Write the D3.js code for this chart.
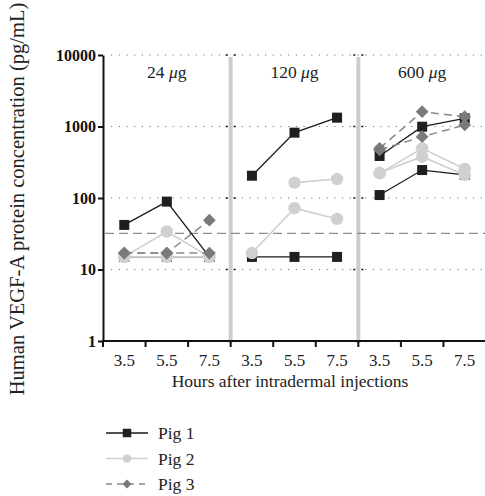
<!DOCTYPE html>
<html>
<head>
<meta charset="utf-8">
<script src="https://cdn.jsdelivr.net/npm/d3@7"></script>
<style>
  body { margin: 0; background: #fff; }
  svg { font-family: "Liberation Serif", "DejaVu Serif", serif; }
</style>
</head>
<body>
<script>
//chart values
var hours = ["3.5", "5.5", "7.5"];
var doses = ["24 \u03bcg", "120 \u03bcg", "600 \u03bcg"];
var pigs = ["Pig 1", "Pig 2", "Pig 3"];
var yTicks = [1, 10, 100, 1000, 10000];
var threshold = 32;

//each pig has two series, 9 values = 3 doses x 3 hours
var pig1a = [42, 89, 15, 205, 820, 1330, 110, 246, 210];
var pig1b = [15, 15, 15, 15, 15, 15, 387, 993, 1300];
var pig2a = [15, 34, 15, 17, 72, 51, 221, 495, 255];
var pig2b = [15, 15, 15, null, 164, 184, 225, 378, 210];
var pig3a = [17, 17, 49, null, null, null, 495, 1610, 1370];
var pig3b = [17, 17, 17, null, null, null, 470, 720, 1050];

var width = 485,
    height = 496;

var plotLeft = 103, plotRight = 486, plotTop = 55, plotBottom = 341;

var svg = d3.select("body")
    .append("svg")
    .attr("width", width)
    .attr("height", height);

//one category per dose/hour pair
var cats = [];
doses.forEach(function(d, i){
    hours.forEach(function(h){ cats.push(i + "_" + h); });
});

var x = d3.scaleBand()
    .domain(cats)
    .range([plotLeft, plotRight]);

var y = d3.scaleLog()
    .domain([1, 10000])
    .range([plotBottom, plotTop]);

//dotted grid lines
svg.selectAll(".grid")
    .data(yTicks.slice(1))
    .enter()
    .append("line")
    .attr("x1", plotLeft + 8)
    .attr("x2", plotRight)
    .attr("y1", function(d){ return y(d); })
    .attr("y2", function(d){ return y(d); })
    .attr("stroke", "#777")
    .attr("stroke-width", 1.2)
    .attr("stroke-dasharray", "1.2,6.5");

//panel separators
var seps = [1, 2].map(function(i){ return x(i + "_3.5"); });
svg.selectAll(".sep")
    .data(seps)
    .enter()
    .append("line")
    .attr("x1", function(d){ return d; })
    .attr("x2", function(d){ return d; })
    .attr("y1", plotTop + 2)
    .attr("y2", plotBottom + 2)
    .attr("stroke", "#cdcdcd")
    .attr("stroke-width", 4);

//small ticks on the separators
seps.forEach(function(s){
    [-4, 4].forEach(function(off){
        svg.selectAll(null)
            .data(yTicks.slice(1))
            .enter()
            .append("line")
            .attr("x1", s + off - 1).attr("x2", s + off + 1)
            .attr("y1", function(d){ return y(d); })
            .attr("y2", function(d){ return y(d); })
            .attr("stroke", "#111").attr("stroke-width", 1.5);
    });
});

//threshold dashed line
svg.append("line")
    .attr("x1", plotLeft + 2)
    .attr("x2", plotRight)
    .attr("y1", y(threshold))
    .attr("y2", y(threshold))
    .attr("stroke", "#8c8c8c")
    .attr("stroke-width", 1.4)
    .attr("stroke-dasharray", "9,5");

//y axis
var yAxis = svg.append("g")
    .attr("transform", "translate(" + plotLeft + ",0)")
    .call(d3.axisLeft(y).tickValues(yTicks).tickFormat(d3.format("d")).tickSize(5).tickSizeOuter(0));
yAxis.select(".domain").attr("stroke", "#111").attr("stroke-width", 2);
yAxis.selectAll(".tick line").attr("stroke", "#111").attr("stroke-width", 2);
yAxis.selectAll(".tick text")
    .attr("x", -7)
    .attr("fill", "#111")
    .style("font-family", "Liberation Serif")
    .style("font-weight", "bold")
    .style("font-size", "16px");

//x axis
var bounds = cats.map(function(c){ return x(c); }).concat([plotRight]);
svg.append("line")
    .attr("x1", plotLeft - 1).attr("x2", plotRight)
    .attr("y1", plotBottom).attr("y2", plotBottom)
    .attr("stroke", "#111").attr("stroke-width", 2);
svg.selectAll(".xtick")
    .data(bounds)
    .enter()
    .append("line")
    .attr("x1", function(d){ return d; })
    .attr("x2", function(d){ return d; })
    .attr("y1", plotBottom)
    .attr("y2", plotBottom + 6)
    .attr("stroke", "#111").attr("stroke-width", 2);
svg.selectAll(".xlabel")
    .data(cats)
    .enter()
    .append("text")
    .attr("x", function(d){ return x(d) + x.bandwidth() / 2; })
    .attr("y", plotBottom + 25)
    .attr("text-anchor", "middle")
    .attr("fill", "#222")
    .style("font-size", "17px")
    .text(function(d){ return d.split("_")[1]; });

svg.append("text")
    .attr("x", 290)
    .attr("y", plotBottom + 46)
    .attr("text-anchor", "middle")
    .attr("fill", "#222")
    .style("font-size", "17.5px")
    .text("Hours after intradermal injections");

//y title
svg.append("text")
    .attr("transform", "translate(24,199) rotate(-90)")
    .attr("text-anchor", "middle")
    .attr("fill", "#222")
    .style("font-size", "20.5px")
    .text("Human VEGF-A protein concentration (pg/mL)");

//panel titles
doses.forEach(function(d, i){
    var cx = x(i + "_5.5") + x.bandwidth() / 2;
    var t = svg.append("text")
        .attr("x", cx)
        .attr("y", 78)
        .attr("text-anchor", "middle")
        .attr("fill", "#222")
        .style("font-size", "17.5px");
    var parts = d.split(" ");
    t.append("tspan").text(parts[0] + " ");
    t.append("tspan").style("font-style", "italic").text(parts[1].charAt(0));
    t.append("tspan").text(parts[1].slice(1));
});

//series
var series = [
    {pig: 0, values: pig1a}, {pig: 0, values: pig1b},
    {pig: 1, values: pig2a}, {pig: 1, values: pig2b},
    {pig: 2, values: pig3a}, {pig: 2, values: pig3b}
];

var styles = [
    {line: "#1a1a1a", width: 1.3, dash: null, fill: "#1f1f1f"},
    {line: "#cfcfcf", width: 1.6, dash: null, fill: "#d0d0d0"},
    {line: "#8a8a8a", width: 1.5, dash: "8,5", fill: "#7a7a7a"}
];

var line = d3.line()
    .defined(function(d){ return d.v != null; })
    .x(function(d){ return x(d.c) + x.bandwidth() / 2; })
    .y(function(d){ return y(d.v); });

function marker(g, pig, px, py, s){
    var st = styles[pig];
    if (pig === 0) {
        g.append("rect")
            .attr("x", px - s / 2).attr("y", py - s / 2)
            .attr("width", s).attr("height", s)
            .attr("fill", st.fill);
    } else if (pig === 1) {
        g.append("circle")
            .attr("cx", px).attr("cy", py).attr("r", s * 0.62)
            .attr("fill", st.fill);
    } else {
        g.append("rect")
            .attr("x", px - s * 0.45).attr("y", py - s * 0.45)
            .attr("width", s * 0.9).attr("height", s * 0.9)
            .attr("transform", "rotate(45," + px + "," + py + ")")
            .attr("fill", st.fill);
    }
}

[0, 1, 2].forEach(function(p){
    var g = svg.append("g").attr("class", "pig" + (p + 1));
    series.filter(function(s){ return s.pig === p; }).forEach(function(s){
        var pts = s.values.map(function(v, i){ return {c: cats[i], v: v}; });
        //one path per dose panel
        [0, 1, 2].forEach(function(k){
            var seg = pts.slice(k * 3, k * 3 + 3);
            g.append("path")
                .datum(seg)
                .attr("d", line)
                .attr("fill", "none")
                .attr("stroke", styles[p].line)
                .attr("stroke-width", styles[p].width)
                .attr("stroke-dasharray", styles[p].dash);
        });
        pts.forEach(function(d){
            if (d.v == null) return;
            marker(g, p, x(d.c) + x.bandwidth() / 2, y(d.v), 10);
        });
    });
});

//legend
var legend = svg.selectAll(".legend")
    .data(pigs)
    .enter()
    .append("g")
    .attr("transform", function(d, i){ return "translate(0," + (433 + i * 25.5) + ")"; });

legend.each(function(d, i){
    var g = d3.select(this);
    g.append("line")
        .attr("x1", 106).attr("x2", 148)
        .attr("stroke", styles[i].line)
        .attr("stroke-width", styles[i].width)
        .attr("stroke-dasharray", i === 2 ? "6,5" : null);
    marker(g, i, 127, 0, i === 0 ? 8.5 : 7);
    g.append("text")
        .attr("x", 158)
        .attr("y", 6)
        .attr("fill", "#222")
        .style("font-size", "17.5px")
        .text(d);
});
</script>
</body>
</html>
